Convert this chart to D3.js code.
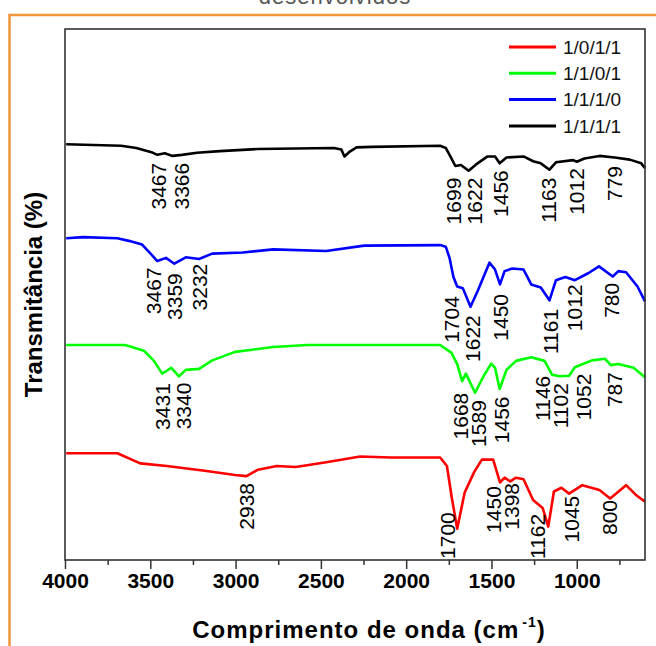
<!DOCTYPE html>
<html>
<head>
<meta charset="utf-8">
<script src="https://cdn.jsdelivr.net/npm/d3@7"></script>
<style>
    body { margin: 0; background: #fff; }
    text { font-family: "Liberation Sans", Arial, sans-serif; }
</style>
</head>
<body>
<svg id="chart" width="656" height="646"></svg>
<script>
// Series names and colours (legend order)
const seriesNames = ["1/0/1/1", "1/1/0/1", "1/1/1/0", "1/1/1/1"];
const seriesColors = ["#ff0000", "#00ff00", "#0000ff", "#000000"];

// Spectra: [wavenumber (cm-1), transmittance (a.u., offset)]
const red1011 = [
    [3993, 20.1], [3693, 20.1], [3559, 18.2], [3403, 17.7], [3181, 16.8], [3003, 16.0],
    [2936, 15.8], [2869, 17.0], [2758, 17.7], [2647, 17.5], [2469, 18.4], [2269, 19.5],
    [2090, 19.3], [1801, 19.3], [1761, 17.7], [1734, 12.0], [1701, 5.9], [1657, 12.7],
    [1601, 16.6], [1556, 18.9], [1490, 18.9], [1450, 14.6], [1423, 15.5], [1390, 14.8],
    [1356, 15.5], [1312, 15.2], [1256, 11.3], [1200, 9.8], [1167, 6.3], [1134, 12.9],
    [1090, 13.6], [1045, 12.5], [967, 14.1], [867, 13.2], [804, 11.6], [711, 14.1],
    [655, 12.3], [600, 11.0]
];
const green1101 = [
    [3993, 40.5], [3648, 40.5], [3537, 39.4], [3481, 37.6], [3430, 35.1], [3377, 36.2],
    [3332, 34.6], [3292, 35.8], [3214, 36.0], [3137, 37.6], [3003, 39.2], [2780, 40.1],
    [2580, 40.5], [1801, 40.5], [1734, 39.0], [1701, 36.9], [1672, 33.7], [1650, 35.1],
    [1596, 31.5], [1545, 34.7], [1501, 37.0], [1479, 36.2], [1452, 32.2], [1412, 35.8],
    [1356, 37.5], [1267, 38.2], [1189, 37.5], [1145, 34.9], [1100, 34.6], [1045, 34.7],
    [1011, 36.3], [911, 37.6], [834, 37.9], [800, 36.7], [756, 36.9], [667, 36.2], [600, 34.4]
];
const blue1110 = [
    [3993, 60.6], [3893, 60.8], [3693, 60.6], [3626, 60.1], [3548, 59.4], [3504, 57.9],
    [3459, 56.3], [3408, 56.9], [3359, 55.8], [3292, 57.0], [3214, 56.7], [3137, 57.7],
    [2958, 57.9], [2780, 58.5], [2469, 58.2], [2246, 59.2], [1801, 59.3], [1768, 59.0],
    [1746, 56.9], [1723, 53.3], [1701, 51.5], [1668, 51.2], [1623, 47.7], [1579, 50.8],
    [1512, 56.0], [1479, 54.7], [1450, 51.9], [1423, 54.4], [1378, 54.9], [1312, 54.7],
    [1267, 51.9], [1211, 51.3], [1160, 48.9], [1122, 52.7], [1067, 53.3], [1011, 52.7],
    [933, 54.0], [870, 55.3], [789, 53.4], [756, 54.4], [711, 54.2], [644, 51.5], [600, 48.7]
];
const black1111 = [
    [3993, 78.3], [3671, 78.0], [3582, 77.6], [3493, 76.8], [3459, 76.3], [3415, 76.6],
    [3370, 76.1], [3315, 76.3], [3226, 76.7], [3092, 77.0], [2869, 77.4], [2424, 77.6],
    [2380, 77.3], [2362, 76.0], [2335, 76.8], [2291, 77.7], [2202, 77.8], [1801, 78.0],
    [1768, 77.6], [1734, 75.6], [1712, 74.2], [1679, 74.4], [1634, 73.3], [1590, 74.5],
    [1523, 76.0], [1479, 76.0], [1452, 74.7], [1412, 75.8], [1312, 76.0], [1256, 75.1],
    [1211, 74.7], [1160, 73.5], [1122, 74.9], [1022, 75.3], [1000, 75.0], [955, 75.6],
    [867, 76.1], [778, 75.8], [689, 75.4], [622, 74.7], [600, 73.8]
];
const spectra = [red1011, green1101, blue1110, black1111];

// Peak labels: [text, wavenumber where the label sits, transmittance at its top end]
const redPeaks = [
    ["2938", 2936, 14.5], ["1700", 1757, 9.0], ["1450", 1491, 13.9], ["1398", 1383, 14.5],
    ["1162", 1233, 8.7], ["1045", 1034, 12.1], ["800", 811, 11.3]
];
const greenPeaks = [
    ["3431", 3426, 33.3], ["3340", 3304, 33.4], ["1668", 1679, 31.5], ["1589", 1579, 30.1],
    ["1456", 1441, 30.8], ["1146", 1200, 34.7], ["1102", 1094, 33.3], ["1052", 960, 35.1],
    ["787", 778, 35.4]
];
const bluePeaks = [
    ["3467", 3481, 55.1], ["3359", 3359, 54.0], ["3232", 3214, 55.8], ["1704", 1734, 49.7],
    ["1622", 1612, 46.1], ["1450", 1445, 50.1], ["1161", 1156, 47.3], ["1012", 1011, 51.9],
    ["780", 799, 52.2]
];
const blackPeaks = [
    ["3467", 3452, 74.8], ["3366", 3315, 74.8], ["1699", 1723, 72.0], ["1622", 1601, 72.0],
    ["1456", 1445, 73.4], ["1163", 1167, 72.0], ["1012", 1000, 73.8], ["779", 782, 74.2]
];
const allPeaks = [redPeaks, greenPeaks, bluePeaks, blackPeaks];

// Axis ticks
const majorTicks = [4000, 3500, 3000, 2500, 2000, 1500, 1000];
const minorTicks = [3750, 3250, 2750, 2250, 1750, 1250, 750];

const svg = d3.select("#chart");
const margin = { top: 29, right: 11, bottom: 86, left: 65 };
const width = +svg.attr("width");
const height = +svg.attr("height");

// Orange page border (only top and left edges fall inside the view)
svg.append("rect")
    .attr("x", 9.5)
    .attr("y", 15)
    .attr("width", 800)
    .attr("height", 800)
    .attr("fill", "none")
    .attr("stroke", "#f0963a")
    .attr("stroke-width", 2.5);

// Cut-off caption above the frame
svg.append("text")
    .attr("x", 335)
    .attr("y", 4)
    .attr("text-anchor", "middle")
    .attr("font-size", "22px")
    .attr("letter-spacing", "1px")
    .attr("fill", "#555")
    .text("desenvolvidos");

// Scales
const x = d3.scaleLinear()
    .domain([4000, 600])
    .range([margin.left, width - margin.right]);

const y = d3.scaleLinear()
    .domain([0, 100])
    .range([height - margin.bottom, margin.top]);

// Minor ticks
svg.append("g")
    .attr("transform", `translate(0, ${height - margin.bottom})`)
    .call(d3.axisBottom(x).tickValues(minorTicks).tickSize(5).tickFormat(""))
    .call(g => g.select(".domain").remove())
    .selectAll("line").attr("stroke", "#333").attr("stroke-width", 1.5);

// Major ticks with labels
svg.append("g")
    .attr("transform", `translate(0, ${height - margin.bottom})`)
    .call(d3.axisBottom(x).tickValues(majorTicks).tickSize(9).tickPadding(4).tickFormat(d3.format("d")))
    .call(g => g.select(".domain").remove())
    .call(g => g.selectAll("line").attr("stroke", "#333").attr("stroke-width", 1.5))
    .selectAll("text")
    .attr("fill", "#000")
    .attr("font-size", "21px")
    .attr("font-weight", "bold")
    .style("font-family", "'Liberation Sans', Arial, sans-serif");

// Spectra
const line = d3.line()
    .x(d => x(d[0]))
    .y(d => y(d[1]));

svg.append("g")
    .selectAll("path")
    .data(spectra)
    .enter().append("path")
    .attr("d", line)
    .attr("fill", "none")
    .attr("stroke", (d, i) => seriesColors[i])
    .attr("stroke-width", 2.6)
    .attr("stroke-linejoin", "round");

// Frame around the plot area
svg.append("rect")
    .attr("x", margin.left)
    .attr("y", margin.top)
    .attr("width", width - margin.left - margin.right)
    .attr("height", height - margin.top - margin.bottom)
    .attr("fill", "none")
    .attr("stroke", "#333")
    .attr("stroke-width", 1.6);

// Vertical peak labels
allPeaks.forEach(peaks => {
    svg.append("g")
        .selectAll("text")
        .data(peaks)
        .enter().append("text")
        .attr("transform", d => `translate(${x(d[1])}, ${y(d[2])}) rotate(-90)`)
        .attr("dy", "0.36em")
        .attr("text-anchor", "end")
        .attr("font-size", "21px")
        .attr("fill", "#000")
        .text(d => d[0]);
});

// Legend, top right inside the frame
const legend = svg.append("g")
    .selectAll("g")
    .data(seriesNames)
    .enter().append("g")
    .attr("transform", (d, i) => `translate(509, ${47 + i * 26.3})`);

legend.append("line")
    .attr("x1", 0)
    .attr("x2", 47)
    .attr("stroke", (d, i) => seriesColors[i])
    .attr("stroke-width", 3);

legend.append("text")
    .attr("x", 54)
    .attr("dy", "0.36em")
    .attr("font-size", "19px")
    .attr("fill", "#111")
    .text(d => d);

// Axis titles
svg.append("text")
    .attr("x", 33)
    .attr("y", (margin.top + height - margin.bottom) / 2)
    .attr("transform", `rotate(-90, 33, ${(margin.top + height - margin.bottom) / 2})`)
    .attr("dy", "0.36em")
    .attr("text-anchor", "middle")
    .attr("font-size", "24px")
    .attr("font-weight", "bold")
    .text("Transmitância (%)");

const xTitle = svg.append("text")
    .attr("x", 369)
    .attr("y", 638)
    .attr("text-anchor", "middle")
    .attr("font-size", "24px")
    .attr("font-weight", "bold")
    .attr("letter-spacing", "1px");
xTitle.append("tspan").text("Comprimento de onda (cm");
xTitle.append("tspan").attr("dy", "-11").attr("dx", "3").attr("font-size", "14px").text("-1");
xTitle.append("tspan").attr("dy", "11").text(")");
</script>
</body>
</html>
